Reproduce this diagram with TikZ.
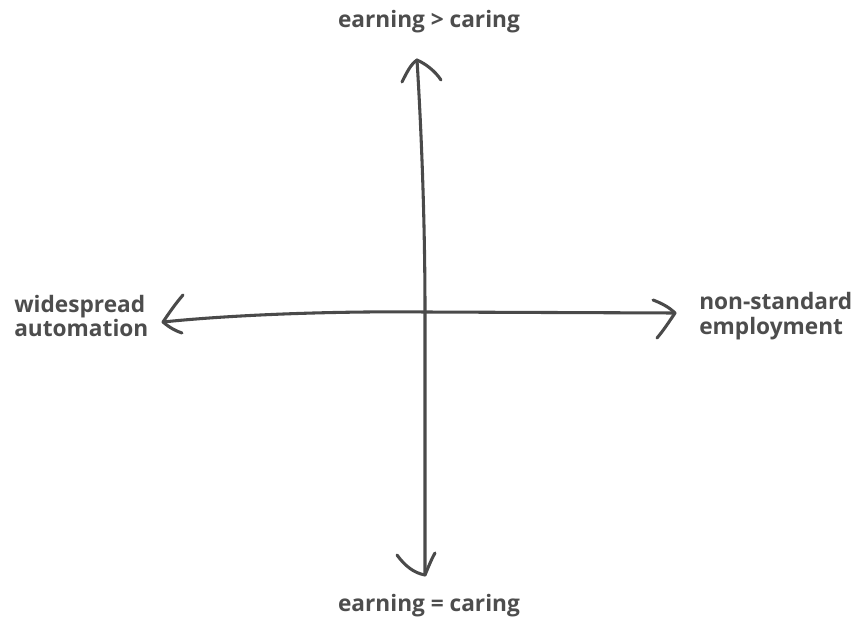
\documentclass[tikz,border=0pt]{standalone}
\usepackage{fontspec}
\setmainfont{Open Sans}[BoldFont={* Bold}]
\definecolor{ink}{HTML}{4A4A4A}
\definecolor{txt}{HTML}{4D4D4D}
\tikzset{
  axis/.style={draw=ink, line width=2.3pt, line cap=round, line join=round},
  lbl/.style={text=txt, font=\bfseries\fontsize{17}{18.6}\selectfont, inner sep=0pt},
}
\begin{document}
\begin{tikzpicture}[x=0.75pt,y=-0.75pt]
\useasboundingbox (0,0) rectangle (854,621);
% key points
\coordinate (c) at (425,312);
\coordinate (top) at (417,60);
\coordinate (bot) at (425,575);
\coordinate (lft) at (163,322);
\coordinate (rgt) at (675,313);
% axes
\draw[axis] (top) .. controls (422,140) and (425,230) .. (c) -- (bot);
\draw[axis] (lft) .. controls (230,315) and (330,311) .. (c) -- (rgt);
% arrowheads
\draw[axis] (402,82) .. controls (407,72) and (411,64) .. (top) .. controls (426,64) and (435,71) .. (441,80);
\draw[axis] (397,555) .. controls (405,566) and (414,573) .. (bot) .. controls (428,568) and (431,560) .. (435,553);
\draw[axis] (183,295) .. controls (176,303) and (169,313) .. (lft) .. controls (170,328) and (176,331) .. (182,333);
\draw[axis] (653,300) .. controls (661,303) and (669,307) .. (rgt) .. controls (669,322) and (663,331) .. (657,338);
% labels
\node[lbl] (n) at (429,22) {earning > caring};
\node[lbl] (s) at (429,606) {earning = caring};
\node[lbl, anchor=west, align=left] (w) at (14,316) {widespread\\automation};
\node[lbl, anchor=west, align=left] (e) at (699,316) {non-standard\\employment};
\end{tikzpicture}
\end{document}
